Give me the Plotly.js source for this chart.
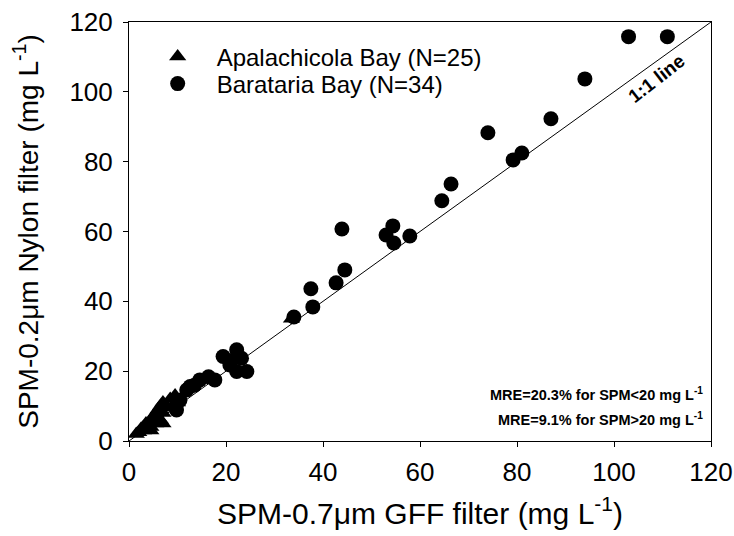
<!DOCTYPE html>
<html>
<head>
<meta charset="utf-8">
<script src="https://cdn.plot.ly/plotly-3.0.1.min.js"></script>
<style>body{margin:0;background:#fff}#chart{width:734px;height:536px}</style>
</head>
<body>
<div id="chart"></div>
<script>
// Apalachicola Bay (triangles)
const apaX = [1.5, 2, 2.5, 3, 3, 3.5, 4, 4.5, 4.5, 5, 5.5, 5.5, 6, 6.5, 6.5, 7, 7, 7, 8, 8.5, 9, 9.5, 10, 4.5, 33.5];
const apaY = [2, 2.5, 3.5, 4, 3, 5, 4.5, 6, 4, 7, 5, 8, 9, 6, 10, 8, 11, 5, 9.5, 12, 10, 13, 11, 3, 35];
// Barataria Bay (circles)
const barX = [103, 111, 94, 87, 74, 81, 79.2, 66.4, 64.5, 43.9, 54.4, 53, 54.6, 57.9, 44.5, 42.7, 37.5, 37.9, 34,
              19.4, 22.2, 23.2, 24.3, 22.2, 20.8, 17.7, 16.4, 14.6, 12.6, 11.9, 10.5, 9.8, 13.5, 21];
const barY = [115.8, 115.8, 103.7, 92.3, 88.3, 82.5, 80.5, 73.6, 68.8, 60.7, 61.6, 59, 56.7, 58.7, 49, 45.3, 43.6, 38.4, 35.5,
              24.2, 26.1, 23.7, 19.9, 19.9, 21.8, 17.5, 18.4, 17.5, 15.6, 14.6, 11.7, 8.9, 16, 23];
const oneToOne = [0, 120];
const tickVals = [0, 20, 40, 60, 80, 100, 120];

const font = "Liberation Sans, Arial, sans-serif";

const data = [
  {x: oneToOne, y: oneToOne, mode: 'lines', line: {color: '#000', width: 1}, showlegend: false, hoverinfo: 'skip'},
  {x: apaX, y: apaY, mode: 'markers', name: 'Apalachicola Bay (N=25)', legend: 'legend',
   marker: {symbol: 'triangle-up', size: 15, color: '#000'}},
  {x: barX, y: barY, mode: 'markers', name: 'Barataria Bay (N=34)', legend: 'legend2',
   marker: {symbol: 'circle', size: 15, color: '#000'}}
];

const axisCommon = {
  range: [0, 120], tickvals: tickVals, ticks: 'outside', ticklen: 5, tickwidth: 1, tickcolor: '#000',
  showline: true, linecolor: '#000', linewidth: 1, mirror: true, showgrid: false, zeroline: false,
  tickfont: {family: font, size: 26, color: '#000'}
};

const legendCommon = {
  x: 0.0166, xanchor: 'left', yanchor: 'middle',
  bgcolor: 'rgba(0,0,0,0)', borderwidth: 0, itemwidth: 68,
  font: {family: font, size: 24, color: '#000'}
};

const layout = {
  width: 734, height: 536,
  margin: {l: 129, r: 23, t: 22, b: 95},
  paper_bgcolor: '#fff', plot_bgcolor: '#fff',
  xaxis: Object.assign({}, axisCommon, {
    ticklabelstandoff: 3,
    title: {text: 'SPM-0.7\u03bcm GFF filter (mg L<sup>-1</sup>)', font: {family: font, size: 30, color: '#000'}, standoff: 16}
  }),
  yaxis: Object.assign({}, axisCommon, {
    ticklabelstandoff: 5,
    title: {text: 'SPM-0.2\u03bcm Nylon filter (mg L<sup>-1</sup>)', font: {family: font, size: 28, color: '#000'}, standoff: 22}
  }),
  legend: Object.assign({}, legendCommon, {y: 0.9165}),
  legend2: Object.assign({}, legendCommon, {y: 0.852}),
  annotations: [
    {text: '<b>1:1 line</b>', x: 108.8, y: 103.7, xref: 'x', yref: 'y', showarrow: false, textangle: -38,
     font: {family: font, size: 19, color: '#000'}},
    {text: '<b>MRE=20.3% for SPM<20 mg L<sup>-1</sup></b>', x: 0.99, y: 13.5, xref: 'paper', yref: 'y', showarrow: false,
     xanchor: 'right', font: {family: font, size: 14.5, color: '#000'}},
    {text: '<b>MRE=9.1% for SPM>20 mg L<sup>-1</sup></b>', x: 0.99, y: 6.2, xref: 'paper', yref: 'y', showarrow: false,
     xanchor: 'right', font: {family: font, size: 14.5, color: '#000'}}
  ]
};

Plotly.newPlot('chart', data, layout, {displayModeBar: false, staticPlot: true});
</script>
</body>
</html>
